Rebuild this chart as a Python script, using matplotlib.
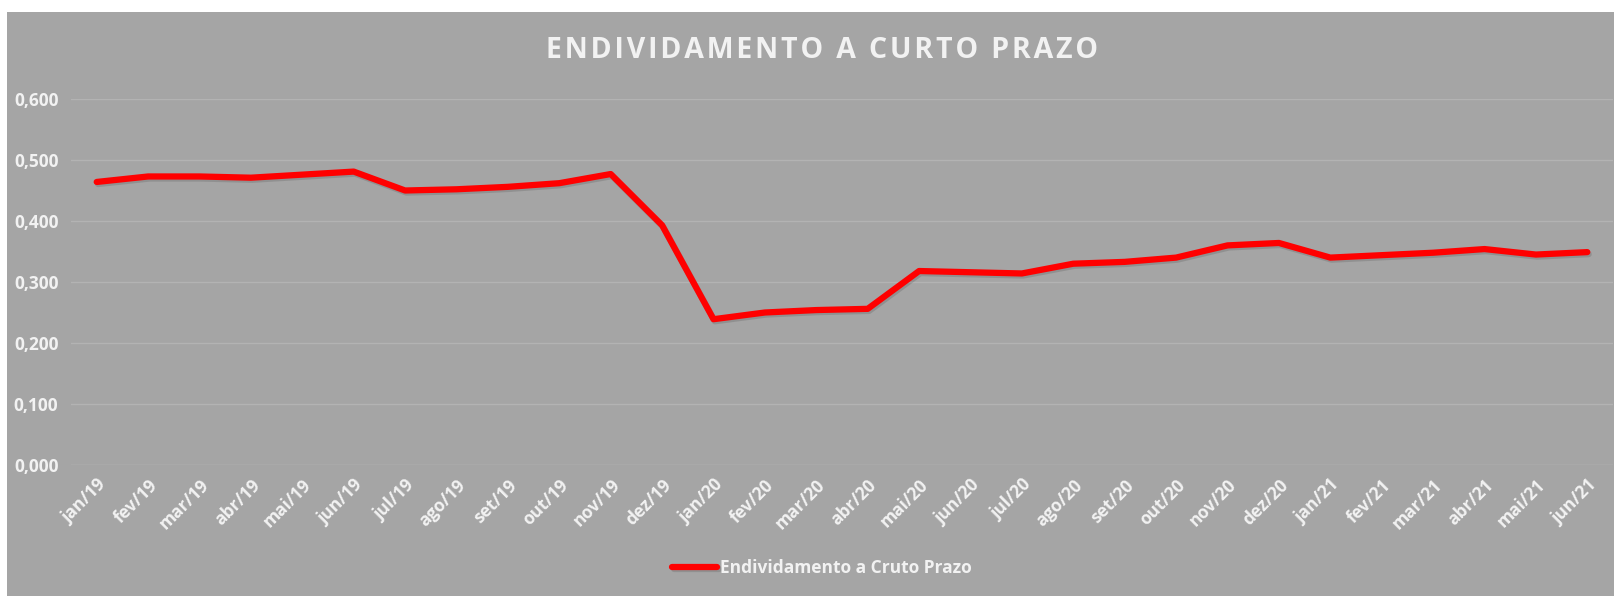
import numpy as np
import matplotlib
matplotlib.use('Agg')
import matplotlib.pyplot as plt
import matplotlib.patheffects as pe
from matplotlib.patches import Rectangle

# data
meses = ['jan/19', 'fev/19', 'mar/19', 'abr/19', 'mai/19', 'jun/19', 'jul/19', 'ago/19',
         'set/19', 'out/19', 'nov/19', 'dez/19', 'jan/20', 'fev/20', 'mar/20', 'abr/20',
         'mai/20', 'jun/20', 'jul/20', 'ago/20', 'set/20', 'out/20', 'nov/20', 'dez/20',
         'jan/21', 'fev/21', 'mar/21', 'abr/21', 'mai/21', 'jun/21']
endividamento = [0.464, 0.473, 0.473, 0.471, 0.476, 0.481, 0.450, 0.452,
                 0.456, 0.462, 0.477, 0.393, 0.239, 0.250, 0.254, 0.256,
                 0.318, 0.316, 0.314, 0.330, 0.333, 0.340, 0.360, 0.364,
                 0.340, 0.344, 0.348, 0.354, 0.345, 0.349]
y_ticks = [0.0, 0.1, 0.2, 0.3, 0.4, 0.5, 0.6]

bg = '#A5A5A5'
txt = '#F2F2F2'
plt.rcParams['font.family'] = ['Open Sans', 'DejaVu Sans']

fig = plt.figure(figsize=(16.14, 5.96), dpi=100, facecolor='white')
# grey chart area (white strip at top and left)
fig.patches.append(Rectangle((7 / 1614, 0), 1, 1 - 12 / 596, transform=fig.transFigure,
                             facecolor=bg, edgecolor='none', zorder=-10))

ax = fig.add_axes([71 / 1614, 1 - 465 / 596, (1613 - 71) / 1614, (465 - 99) / 596])
ax.set_facecolor(bg)
x = np.arange(len(meses))
ax.plot(x, endividamento, color='#FF0000', linewidth=4.5, solid_capstyle='round',
        label='Endividamento a Cruto Prazo',
        path_effects=[pe.SimpleLineShadow(offset=(1, -1.5), shadow_color='black', alpha=0.12),
                      pe.Normal()])

ax.set_xlim(-0.5, len(meses) - 0.5)
ax.set_ylim(0, 0.6)
ax.set_yticks(y_ticks)
ax.set_yticklabels([f'{v:.3f}'.replace('.', ',') for v in y_ticks])
ax.set_xticks(x)
ax.set_xticklabels(meses, rotation=45, ha='right', rotation_mode='anchor')
ax.grid(axis='y', color='#B3B3B3', linewidth=1)
ax.set_axisbelow(True)
for s in ax.spines.values():
    s.set_visible(False)
ax.axhline(0, color='#B3B3B3', linewidth=1)
ax.tick_params(axis='y', length=0, pad=9, labelsize=12.5, labelcolor=txt)
ax.tick_params(axis='x', length=0, pad=8, labelsize=12.5, labelcolor=txt)
for lab in ax.get_xticklabels() + ax.get_yticklabels():
    lab.set_fontweight('bold')

# title with wide letter spacing
titulo = 'ENDIVIDAMENTO A CURTO PRAZO'
fig.text(822 / 1614, 1 - 51 / 596, '\u200a'.join(titulo), ha='center', va='center',
         fontsize=20.5, fontweight='bold', color=txt)

leg = fig.legend(loc='center', bbox_to_anchor=(822 / 1614, 1 - 568 / 596), frameon=False,
                 handlelength=2.6, handletextpad=0.15, prop={'size': 12.5, 'weight': 'bold'})
for t in leg.get_texts():
    t.set_color(txt)

fig.savefig('out.png', dpi=100, facecolor='white')
